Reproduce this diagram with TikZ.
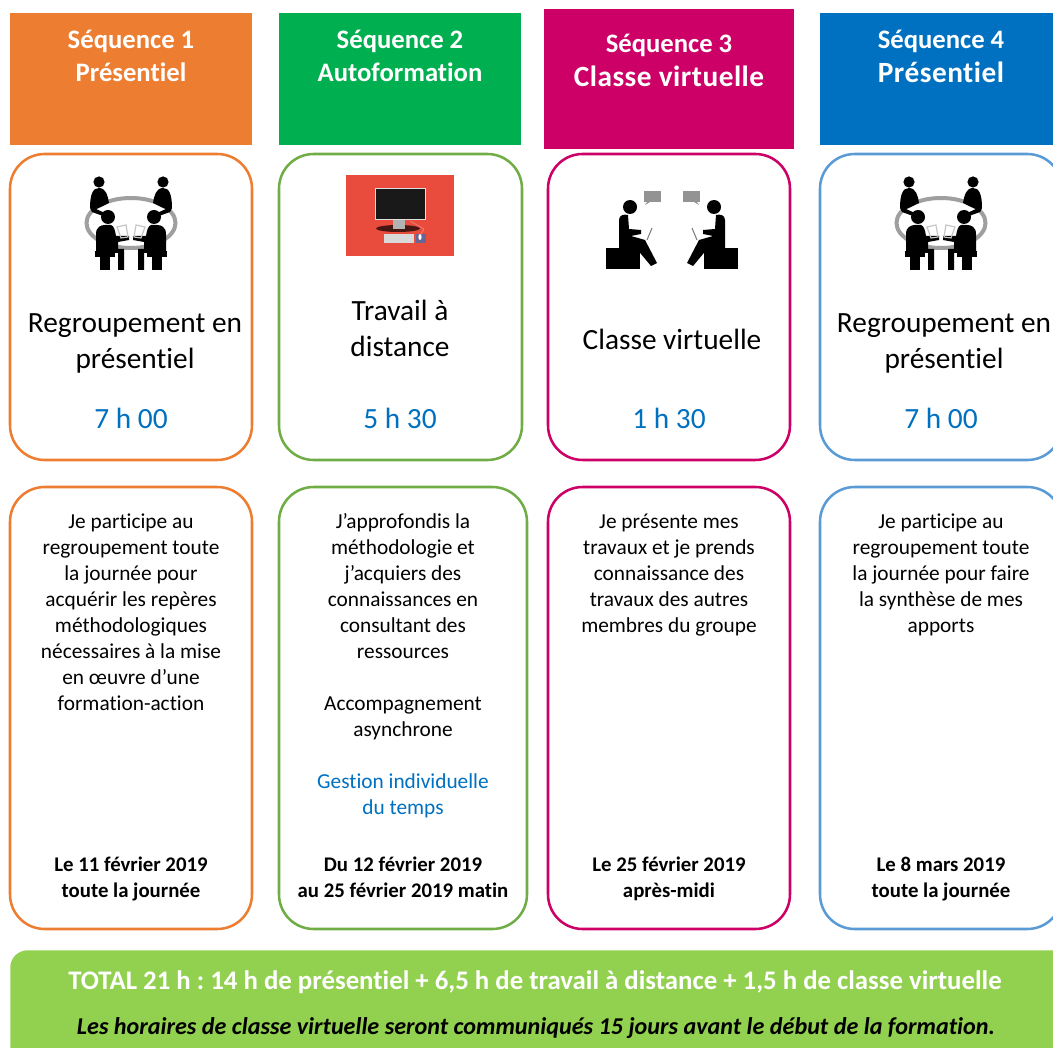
\documentclass[tikz,border=0pt]{standalone}
\usepackage{fontspec}
\setmainfont[Ligatures=NoCommon]{Carlito}
\newfontfamily\spacedfont[Ligatures=NoCommon,LetterSpace=1.7]{Carlito}
\frenchspacing
\definecolor{cO}{HTML}{ED7D31}
\definecolor{cG}{HTML}{00B050}
\definecolor{cM}{HTML}{CC0066}
\definecolor{cB}{HTML}{0070C0}
\definecolor{lG}{HTML}{70AD47}
\definecolor{lB}{HTML}{5B9BD5}
\definecolor{bar}{HTML}{92D050}
\definecolor{redbg}{HTML}{E94C3D}
\newcommand{\card}[6]{\node[#1,anchor=north west,inner sep=0pt,outer sep=0pt,minimum width={(#5-#3)*0.75},minimum height={(#6-#4)*0.75}] (#2) at (#3,#4) {};}
\tikzset{
 x=0.75pt,y=-0.75pt,
 cardline/.style={draw=#1,line width=1.9pt,rounded corners=26pt,fill=white},
 hd/.style={text=white,font=\bfseries\fontsize{20}{24}\selectfont,anchor=center,inner sep=0pt},
 hdb/.style={text=white,font=\spacedfont\bfseries\fontsize{22}{24}\selectfont,anchor=center,inner sep=0pt},
 big/.style={font=\fontsize{22}{27}\selectfont,align=center,inner sep=0pt,anchor=center},
 timet/.style={font=\fontsize{22}{24}\selectfont,text=cB,inner sep=0pt,anchor=center},
 body/.style={font=\fontsize{16}{19.5}\selectfont,align=center,inner sep=0pt,anchor=north},
 dates/.style={font=\bfseries\fontsize{15.6}{19.5}\selectfont,align=center,inner sep=0pt,anchor=north},
 meetpic/.pic={
  \draw[gray!75,line width=3pt] (0,1) ellipse (44.5 and 25);
  \foreach \s in {-1,1}{
   \begin{scope}[xscale=\s]
    \fill[black] (-32,-40) circle (5.6);
    \fill[black] (-41,-14) .. controls (-41,-28) and (-38,-34) .. (-32,-34) .. controls (-25,-34) and (-23,-26) .. (-22,-19) .. controls (-28,-16) and (-32,-14) .. (-35,-13) -- (-26,-9) -- (-28,-6) -- (-39,-10) -- cycle;
    \fill[black] (-23,-5) circle (7);
    \fill[black] (-35,12) .. controls (-35,5) and (-30,3) .. (-26,3) -- (-20,3) .. controls (-17,4) and (-16,8) .. (-15,14) -- (-2,14) -- (-2,18) -- (-13,20) -- (-13,27) -- (-7,27) -- (-7,48) -- (-13,48) -- (-13,31) -- (-35,30) -- cycle;
    \fill[black] (-36,29) rectangle (-16,35);
    \fill[black] (-31,35) rectangle (-21,48);
    \draw[gray!45,line width=.9pt] (-14,5) -- (-5,3) -- (-3,15) -- (-10,16) -- cycle;
   \end{scope}}
 },
 talkpic/.pic={
  \foreach \s in {-1,1}{
   \begin{scope}[xscale=\s]
    \fill[black] (-42,5) circle (7);
    \fill[black] (-53,18) .. controls (-53,13) and (-48,12) .. (-44,13) -- (-43,27) -- (-31,28) -- (-31,32) -- (-41,34) -- (-27,38) -- (-15,61) -- (-21,64) -- (-36,46) -- (-53,46) -- cycle;
    \fill[black] (-66,46) rectangle (-32,67);
    \draw[gray,line width=.8pt] (-20,26) -- (-25,38);
    \fill[gray!85] (-28,-11) rectangle (-11,0);
    \fill[gray!85] (-25,0) -- (-22,0) -- (-27,3) -- cycle;
   \end{scope}}
 }
}
\begin{document}
\begin{tikzpicture}
\path[use as bounding box,clip] (0,0) rectangle (1053,1048);
\card{fill=cO}{hA}{10}{13}{252}{145}
\card{fill=cG}{hB}{279}{13}{521}{145}
\card{fill=cM}{hC}{544}{9}{794}{149}
\card{fill=cB}{hD}{820}{13}{1070}{145}
\node[hd] (ha1) at (131,41) {Séquence 1};
\node[hd] (ha2) at (131,72) {Présentiel};
\node[hd] (hb1) at (400,41) {Séquence 2};
\node[hd] (hb2) at (400,72) {Autoformation};
\node[hd] (hc1) at (669,45) {Séquence 3};
\node[hdb] (hc2) at (669,76) {Classe virtuelle};
\node[hd] (hd1) at (941,41) {Séquence 4};
\node[hdb] (hd2) at (941,72) {Présentiel};

\card{cardline=cO}{tA}{10}{154}{252}{460}
\card{cardline=lG}{tB}{279}{154}{522}{460}
\card{cardline=cM}{tC}{548}{154}{790}{460}
\card{cardline=lB}{tD}{820}{154}{1062}{460}
\card{cardline=cO}{bA}{10}{487}{252}{929}
\card{cardline=lG}{bB}{279}{487}{527}{929}
\card{cardline=cM}{bC}{548}{487}{790}{929}
\card{cardline=lB}{bD}{820}{487}{1062}{929}

\pic at (131,222) {meetpic};
\pic at (941,222) {meetpic};
% computer
\fill[redbg] (346,175) rectangle (454,256);
\fill[black!70!redbg] (398,228.5) ellipse (22 and 3.5);
\fill[gray!60] (393,219) rectangle (405,229);
\draw[white!75!gray,line width=.6pt,fill=black!90] (375,188.5) rectangle (425,219);
\fill[gray!30] (384,234) rectangle (414,243);
\fill[black!70!blue!60] (416,234) rectangle (426,243);
\fill[white!80] (420,237) ellipse (1.6 and 3);
\draw[redbg!60!white,line width=.4pt] (410,221) -- (424,229) -- (421,234);
\pic at (672,202) {talkpic};

\node[big] (ta) at (135,343) {Regroupement en\\présentiel};
\node[big] (tb) at (400,328) {Travail à\\distance};
\node[big] (tc) at (672,339) {Classe virtuelle};
\node[big] (td) at (944,343) {Regroupement en\\présentiel};
\node[timet] (ka) at (131,418) {7 h 00};
\node[timet] (kb) at (400,418) {5 h 30};
\node[timet] (kc) at (669,418) {1 h 30};
\node[timet] (kd) at (941,418) {7 h 00};

\node[body] (da) at (131,510) {\strut Je participe au\\regroupement toute\\la journée pour\\acquérir les repères\\méthodologiques\\nécessaires à la mise\\en œuvre d’une\\formation-action};
\node[body] (db) at (403,510) {\strut J’approfondis la\\méthodologie et\\j’acquiers des\\connaissances en\\consultant des\\ressources\\[19.5pt]Accompagnement\\asynchrone\\[19.5pt]\textcolor{cB}{Gestion individuelle}\\\textcolor{cB}{du temps}};
\node[body] (dc) at (669,510) {\strut Je présente mes\\travaux et je prends\\connaissance des\\travaux des autres\\membres du groupe};
\node[body] (dd) at (941,510) {\strut Je participe au\\regroupement toute\\la journée pour faire\\la synthèse de mes\\apports};
\node[dates] (ea) at (131,853) {\strut Le 11 février 2019\\toute la journée};
\node[dates] (eb) at (403,853) {\strut Du 12 février 2019\\au 25 février 2019 matin};
\node[dates] (ec) at (669,853) {\strut Le 25 février 2019\\après-midi};
\node[dates] (ed) at (941,853) {\strut Le 8 mars 2019\\toute la journée};

\node[fill=bar,rounded corners=13pt,anchor=north west,inner sep=0pt,minimum width=825pt,minimum height=90pt] (tot) at (10,950) {};
\node[text=white,font=\bfseries\fontsize{20.1}{24}\selectfont,inner sep=0pt] (t1) at (535,982) {TOTAL 21 h : 14 h de présentiel + 6,5 h de travail à distance + 1,5 h de classe virtuelle};
\node[font=\bfseries\itshape\fontsize{18.1}{24}\selectfont,inner sep=0pt] (t2) at (536,1028) {Les horaires de classe virtuelle seront communiqués 15 jours avant le début de la formation.};
\end{tikzpicture}
\end{document}
